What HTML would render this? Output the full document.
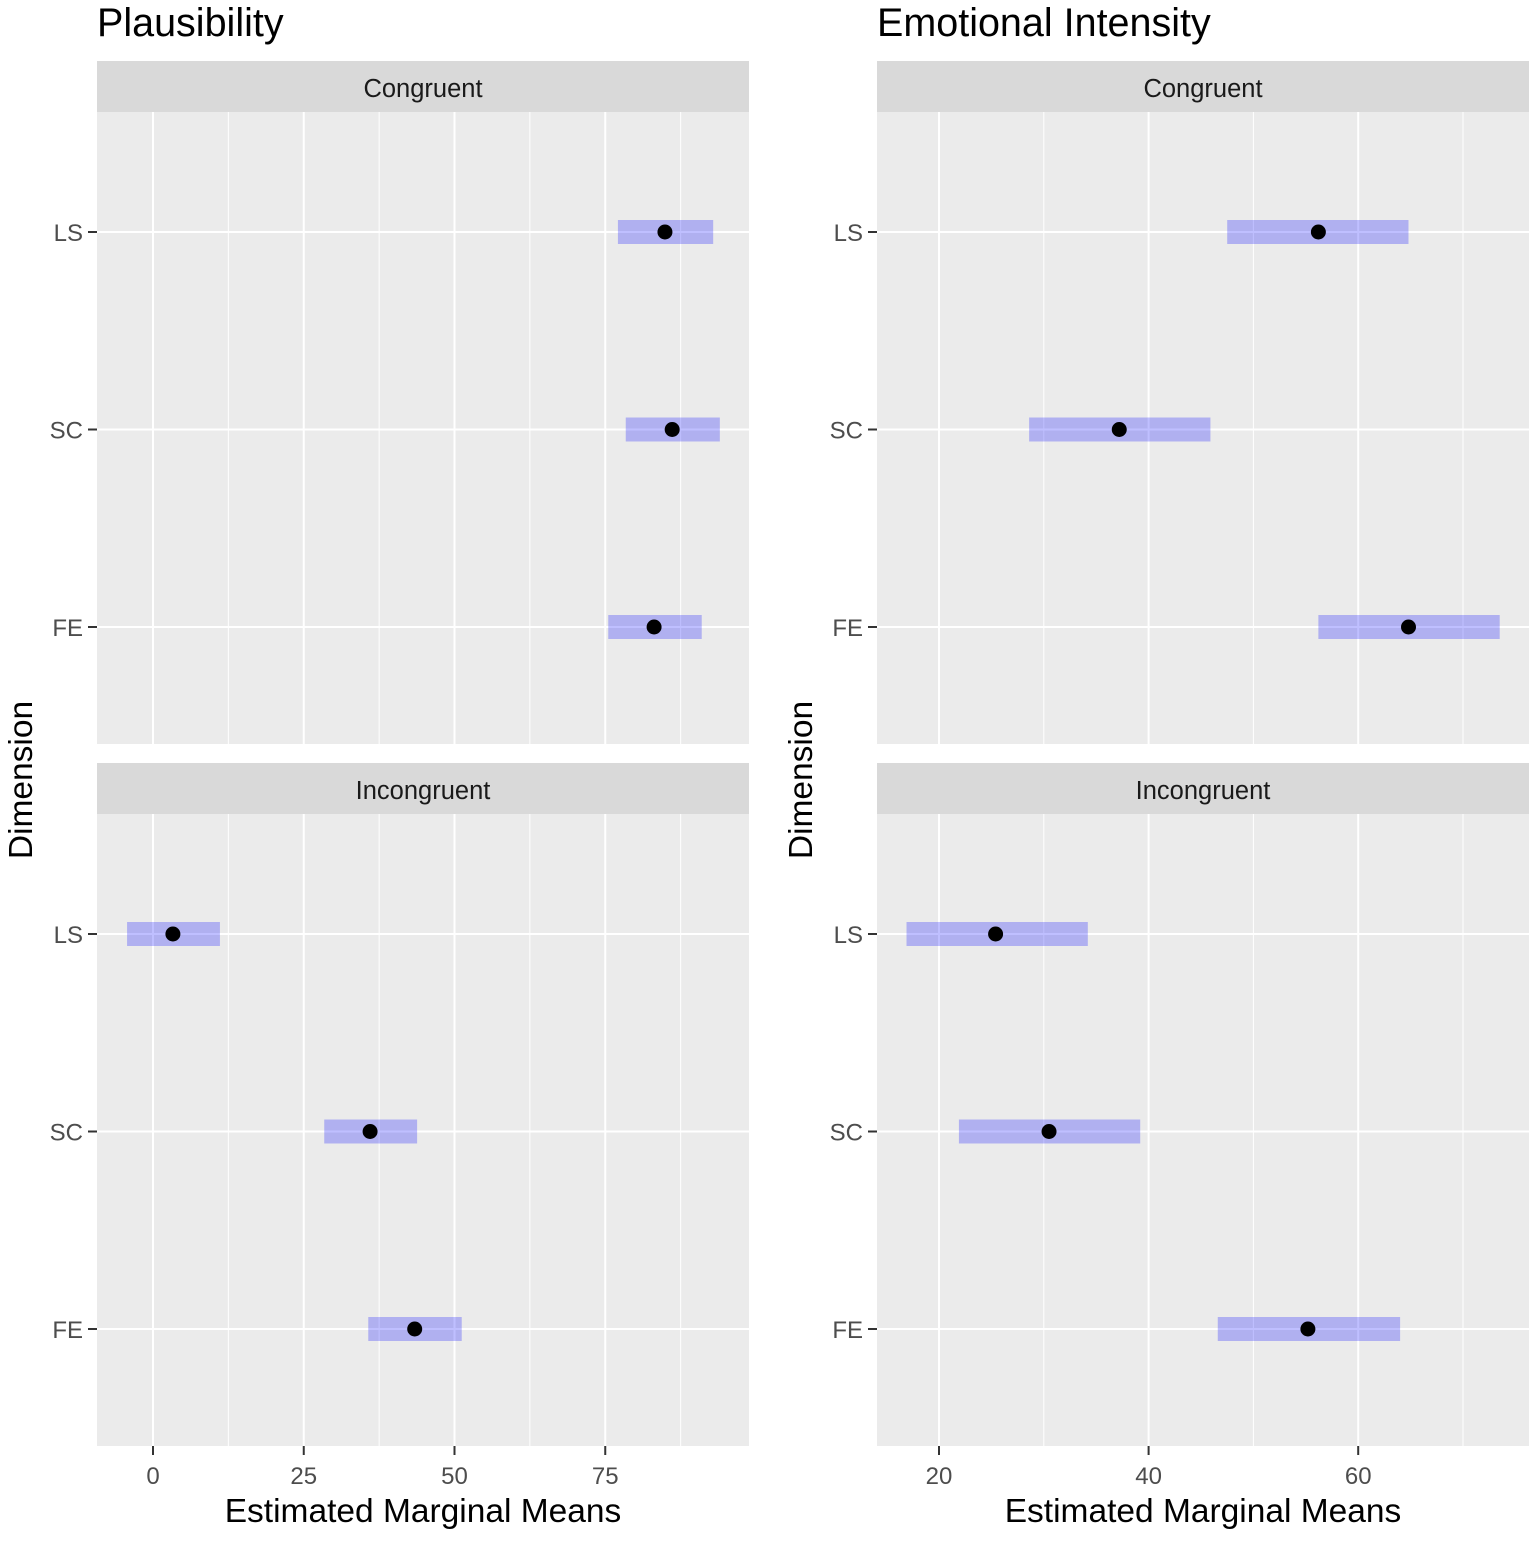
<!DOCTYPE html>
<html><head><meta charset="utf-8"><style>
body{margin:0;background:#fff;font-family:"Liberation Sans",Arial,sans-serif}
svg text{font-family:"Liberation Sans",Arial,sans-serif}
</style></head><body>
<svg id="c" width="1535" height="1543" xmlns="http://www.w3.org/2000/svg"></svg>
<script>
const dims = ["LS","SC","FE"];
const plausCongMean = [84.9, 86.1, 83.1];
const plausCongLo = [77.1, 78.4, 75.5];
const plausCongHi = [92.9, 94.0, 91.0];
const plausIncMean = [3.3, 36.0, 43.4];
const plausIncLo = [-4.3, 28.4, 35.7];
const plausIncHi = [11.1, 43.8, 51.2];
const emoCongMean = [56.2, 37.2, 64.8];
const emoCongLo = [47.5, 28.6, 56.2];
const emoCongHi = [64.8, 45.9, 73.5];
const emoIncMean = [25.4, 30.5, 55.2];
const emoIncLo = [16.9, 21.9, 46.6];
const emoIncHi = [34.2, 39.2, 64.0];
const plausTicks = [0,25,50,75];
const plausMinor = [12.5,37.5,62.5,87.5];
const emoTicks = [20,40,60];
const emoMinor = [30,50,70];

const svg = document.getElementById('c');
const NS = 'http://www.w3.org/2000/svg';
function mk(tag, attrs, parent){const e=document.createElementNS(NS,tag);for(const k in attrs)e.setAttribute(k,attrs[k]);(parent||svg).appendChild(e);return e;}
function txt(x,y,s,size,anchor,name,extra){const t=mk('text',Object.assign({x:x,y:y,'font-size':size,'text-anchor':anchor||'start',fill:'#000'},extra||{}));t.textContent=s;


return t;}

function panel(x0,x1,top,xs,ticks,minor,strip,mean,lo,hi,showX,prefix){
  const sTop=top, sBot=top+51, pBot=sBot+632;
  const g=mk('g',{});
  
  
  const st=mk('rect',{x:x0,y:sTop,width:x1-x0,height:51,fill:'#d9d9d9'},g);
  
  
  const sl=txt((x0+x1)/2,sTop+36,strip,25.5,'middle',prefix+'-strip-label',{fill:'#1a1a1a'});g.appendChild(sl);
  const bg=mk('rect',{x:x0,y:sBot,width:x1-x0,height:632,fill:'#ebebeb'},g);
  
  
  const yPos=i=>sBot+120+i*197.5;
  minor.forEach(v=>{const l=mk('line',{x1:xs(v),x2:xs(v),y1:sBot,y2:pBot,stroke:'#fff','stroke-width':1},g);
    
    });
  ticks.forEach(v=>{const l=mk('line',{x1:xs(v),x2:xs(v),y1:sBot,y2:pBot,stroke:'#fff','stroke-width':2},g);
    
    });
  dims.forEach((d,i)=>{const y=yPos(i);
    const l=mk('line',{x1:x0,x2:x1,y1:y,y2:y,stroke:'#fff','stroke-width':2},g);
    
    
    const tk=mk('line',{x1:x0-9,x2:x0,y1:y,y2:y,stroke:'#333','stroke-width':2},g);
    
    
    const t=txt(x0-14,y+9,d,24,'end',prefix+'-y-tick-label',{fill:'#4d4d4d'});g.appendChild(t);
  });
  dims.forEach((d,i)=>{const y=yPos(i);
    const r=mk('rect',{x:xs(lo[i]),y:y-12,width:xs(hi[i])-xs(lo[i]),height:24,fill:'#0000ff','fill-opacity':0.25},g);
    
    
    const c=mk('circle',{cx:xs(mean[i]),cy:y,r:7.5,fill:'#000'},g);
    
    
  });
  if(showX){ticks.forEach(v=>{
    const tk=mk('line',{x1:xs(v),x2:xs(v),y1:pBot,y2:pBot+9,stroke:'#333','stroke-width':2},g);
    
    
    const t=txt(xs(v),pBot+38,String(v),24,'middle',prefix+'-x-tick-label',{fill:'#4d4d4d'});g.appendChild(t);
  });}
}
const xsP=v=>153+v*6.03;
const xsE=v=>939+(v-20)*10.48;
panel(97,749,61,xsP,plausTicks,plausMinor,'Congruent',plausCongMean,plausCongLo,plausCongHi,false,'plaus-cong');
panel(97,749,763,xsP,plausTicks,plausMinor,'Incongruent',plausIncMean,plausIncLo,plausIncHi,true,'plaus-inc');
panel(877,1529,61,xsE,emoTicks,emoMinor,'Congruent',emoCongMean,emoCongLo,emoCongHi,false,'emo-cong');
panel(877,1529,763,xsE,emoTicks,emoMinor,'Incongruent',emoIncMean,emoIncLo,emoIncHi,true,'emo-inc');
txt(97,36,'Plausibility',39.5,'start','plausibility-title');
txt(877,36,'Emotional Intensity',39.5,'start','emotional-intensity-title');
txt(423,1522,'Estimated Marginal Means',33.5,'middle','plaus-x-axis-title');
txt(1203,1522,'Estimated Marginal Means',33.5,'middle','emo-x-axis-title');
txt(0,0,'Dimension',33.5,'middle','plaus-y-axis-title',{transform:'translate(32,780) rotate(-90)'});
txt(0,0,'Dimension',33.5,'middle','emo-y-axis-title',{transform:'translate(812,780) rotate(-90)'});
</script>
</body></html>
